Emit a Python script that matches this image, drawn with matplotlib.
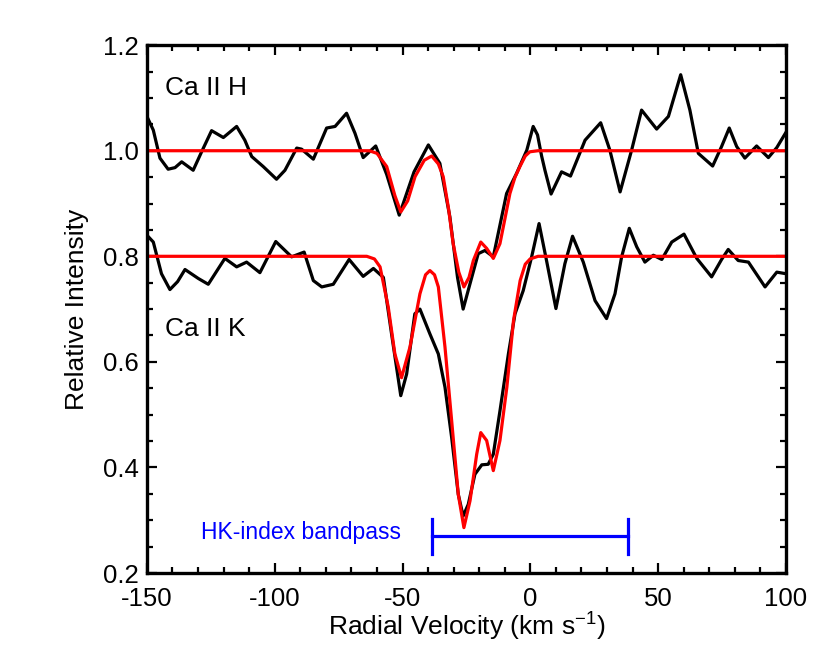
import matplotlib
matplotlib.use("Agg")
import matplotlib.pyplot as plt
import numpy as np

plt.rcParams['font.family'] = ['Liberation Sans', 'DejaVu Sans']
plt.rcParams['mathtext.default'] = 'regular'
plt.rcParams['axes.unicode_minus'] = False

# Ca II H observed profile (velocity km/s, relative intensity)
h_vel = [-150, -147.5, -144.9, -141.7, -139, -136.4, -131.9, -128.6, -124.7, -120.1,
         -114.9, -111.7, -109, -104.5, -99.3, -96, -91.4, -89.5, -84.9, -79.7,
         -76.4, -71.9, -68.6, -65.4, -62.5, -60.5, -56.2, -51.3, -45.5, -39.9,
         -35.4, -31.5, -28.5, -26.3, -23.5, -20.4, -17.8, -14.5, -9.3, -5.4,
         -1.4, 1.1, 2.8, 4.4, 5.7, 8.1, 12.2, 15.7, 21.4, 27.5,
         31.1, 35.1, 39.6, 43.5, 49.4, 54, 58.8, 62.4, 65.7, 71.3,
         74.8, 77.8, 80.7, 83.9, 88.5, 93.1, 96.4, 100]
h_int = [1.065, 1.039, 0.986, 0.965, 0.968, 0.979, 0.963, 0.998, 1.038, 1.025,
         1.046, 1.02, 0.989, 0.970, 0.946, 0.963, 1.005, 1.003, 0.984, 1.043,
         1.046, 1.071, 1.033, 0.987, 1.0, 1.009, 0.955, 0.878, 0.96, 1.011,
         0.976, 0.875, 0.76, 0.70, 0.75, 0.805, 0.811, 0.799, 0.919, 0.957,
         1.001, 1.046, 1.03, 0.99, 0.963, 0.918, 0.960, 0.952, 1.02, 1.053,
         1.001, 0.922, 1.001, 1.077, 1.041, 1.065, 1.144, 1.077, 0.995, 0.971,
         1.008, 1.043, 1.008, 0.986, 1.009, 0.987, 1.006, 1.035]

# Ca II K observed profile
k_vel = [-150, -147.5, -144.3, -141, -138, -135.1, -129.9, -126, -119.5, -114.9,
         -111, -105.8, -99.6, -93.4, -88.5, -84.9, -81.6, -77.1, -70.9, -65.4,
         -61.4, -57.5, -54.3, -50.7, -48.4, -45.2, -43.2, -39.3, -36, -33.4,
         -30.8, -28.2, -26.3, -24.3, -21.7, -19, -16.5, -14.5, -11.9, -8.6,
         -6, -2.8, 0.5, 3.4, 6.4, 10, 13.5, 16.5, 20.7, 25.3,
         29.8, 33.1, 35.7, 38.7, 41.6, 44.8, 48.1, 51.4, 55.3, 60.1,
         65.1, 70.9, 74.8, 77.4, 81.3, 85.3, 91.8, 96.4, 100]
k_int = [0.840, 0.827, 0.767, 0.737, 0.752, 0.775, 0.758, 0.747, 0.796, 0.780,
         0.789, 0.769, 0.828, 0.799, 0.808, 0.754, 0.742, 0.747, 0.794, 0.762,
         0.777, 0.760, 0.653, 0.536, 0.577, 0.691, 0.700, 0.653, 0.615, 0.552,
         0.457, 0.349, 0.308, 0.330, 0.387, 0.405, 0.406, 0.425, 0.507, 0.615,
         0.691, 0.735, 0.799, 0.862, 0.790, 0.701, 0.786, 0.838, 0.789, 0.716,
         0.682, 0.729, 0.799, 0.853, 0.818, 0.789, 0.802, 0.794, 0.827, 0.842,
         0.796, 0.761, 0.794, 0.813, 0.792, 0.789, 0.742, 0.770, 0.767]

# model fits (red)
h_fit_vel = [-150, -63, -60, -56.2, -53, -50.7, -48, -45.1, -41.5, -38.6,
             -36, -34.1, -32, -30.2, -28, -26, -24, -22.3, -19.4, -17.1,
             -14.5, -11.9, -10, -8, -6, -4.1, -2, -0.2, 3, 100]
h_fit_int = [1.0, 1.0, 0.995, 0.97, 0.915, 0.884, 0.905, 0.951, 0.982, 0.99,
             0.975, 0.951, 0.89, 0.824, 0.77, 0.742, 0.76, 0.792, 0.827, 0.815,
             0.796, 0.824, 0.87, 0.919, 0.95, 0.970, 0.99, 0.998, 1.0, 1.0]
k_fit_vel = [-150, -64, -61, -58.8, -55.6, -53, -50.4, -47.1, -43.2, -41,
             -39.3, -37.5, -36, -33.4, -30.8, -28.2, -26, -23.6, -21, -19.4,
             -17.1, -14.5, -11.9, -9.2, -6.6, -4, -2, -0.1, 3, 100]
k_fit_int = [0.8, 0.8, 0.795, 0.78, 0.704, 0.615, 0.570, 0.628, 0.729, 0.765,
             0.773, 0.765, 0.742, 0.628, 0.489, 0.349, 0.286, 0.337, 0.425, 0.466,
             0.451, 0.394, 0.451, 0.552, 0.678, 0.754, 0.785, 0.795, 0.8, 0.8]

# HK-index bandpass
band_lo, band_hi, band_y = -38.3, 38.3, 0.27

fig = plt.figure(figsize=(8.3, 6.64), dpi=100)
ax = fig.add_axes([0.177, 0.137, 0.770, 0.795])

ax.plot(h_vel, h_int, color='black', lw=2.3)
ax.plot(k_vel, k_int, color='black', lw=2.3)
ax.plot(h_fit_vel, h_fit_int, color='red', lw=2.3)
ax.plot(k_fit_vel, k_fit_int, color='red', lw=2.3)

ax.plot([band_lo, band_hi], [band_y, band_y], color='blue', lw=2.3)
ax.plot([band_lo, band_lo], [band_y - 0.033, band_y + 0.033], color='blue', lw=2.3)
ax.plot([band_hi, band_hi], [band_y - 0.033, band_y + 0.033], color='blue', lw=2.3)
ax.text(-50.5, band_y + 0.006, "HK-index bandpass", color='blue', fontsize=16.5,
        ha='right', va='center')

ax.text(-143, 1.119, "Ca II H", fontsize=19, ha='left', va='center')
ax.text(-143, 0.663, "Ca II K", fontsize=19, ha='left', va='center')

ax.set_xlim(-150, 100)
ax.set_ylim(0.2, 1.2)
ax.set_xticks(np.arange(-150, 101, 50))
ax.set_yticks([0.2, 0.4, 0.6, 0.8, 1.0, 1.2])
ax.set_yticklabels(["0.2", "0.4", "0.6", "0.8", "1.0", "1.2"])
ax.set_xticks(np.arange(-150, 101, 10), minor=True)
ax.set_yticks(np.arange(0.2, 1.21, 0.05), minor=True)
ax.tick_params(which='both', direction='in', top=True, right=True, width=1.6, labelsize=18.5)
ax.tick_params(which='major', length=7)
ax.tick_params(axis='x', which='major', pad=10)
ax.tick_params(axis='y', which='major', pad=6)
ax.tick_params(which='minor', length=4)
for s in ax.spines.values():
    s.set_linewidth(2.4)

ax.set_xlabel(r"Radial Velocity (km s$^{-1}$)", fontsize=19, labelpad=0)
ax.set_ylabel("Relative Intensity", fontsize=19, labelpad=10)

fig.savefig("out.png", dpi=100)
